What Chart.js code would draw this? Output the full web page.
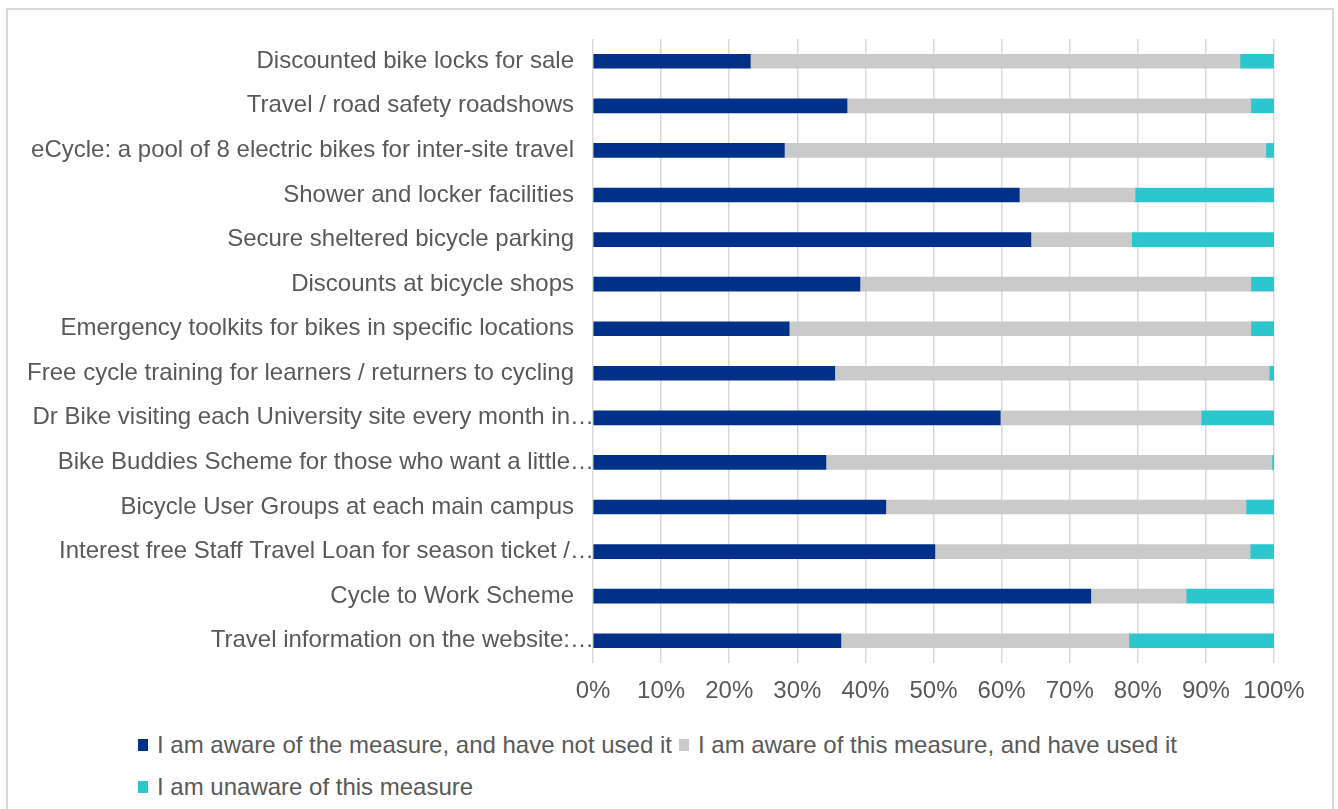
<!DOCTYPE html>
<html>
<head>
<meta charset="utf-8">
<script src="https://cdn.jsdelivr.net/npm/chart.js@4"></script>
<style>
  body { margin: 0; width: 1338px; height: 809px; overflow: hidden; background: #fff;
         font-family: "Liberation Sans", Arial, sans-serif; }
  #frame { position: absolute; left: 6px; top: 8px; width: 1324px; height: 900px;
           border: 2px solid #d9d9d9; }
  #wrap { position: absolute; left: 0; top: 0; width: 1338px; height: 720px; }
  #legend { position: absolute; left: 138px; top: 724px; font-size: 24px; color: #595959; }
  .row { display: flex; align-items: center; height: 42px; white-space: nowrap; }
  .item { display: flex; align-items: center; margin-right: 7px; }
  .sw { display: inline-block; width: 10px; height: 12px; margin-right: 9px; }
</style>
</head>
<body>
<div id="frame"></div>
<div id="wrap"><canvas id="chart"></canvas></div>
<div id="legend"></div>

<script>
// measures, top to bottom as shown (labels truncated like the original)
const MEASURES = [
  'Discounted bike locks for sale',
  'Travel / road safety roadshows',
  'eCycle: a pool of 8 electric bikes for inter-site travel',
  'Shower and locker facilities',
  'Secure sheltered bicycle parking',
  'Discounts at bicycle shops',
  'Emergency toolkits for bikes in specific locations',
  'Free cycle training for learners / returners to cycling',
  'Dr Bike visiting each University site every month in…',
  'Bike Buddies Scheme for those who want a little…',
  'Bicycle User Groups at each main campus',
  'Interest free Staff Travel Loan for season ticket /…',
  'Cycle to Work Scheme',
  'Travel information on the website:…'
];

// percentages per measure
const AWARE_NOT_USED = [23.1, 37.3, 28.1, 62.6, 64.3, 39.2, 28.8, 35.5, 59.8, 34.2, 43.0, 50.2, 73.1, 36.4];
const AWARE_USED     = [71.9, 59.3, 70.7, 17.0, 14.8, 57.4, 67.8, 63.8, 29.5, 65.5, 52.9, 46.3, 14.0, 42.3];
const UNAWARE        = [ 5.0,  3.4,  1.2, 20.4, 20.9,  3.4,  3.4,  0.7, 10.7,  0.3,  4.1,  3.5, 12.9, 21.3];

const SERIES = [
  { label: 'I am aware of the measure, and have not used it', data: AWARE_NOT_USED, color: '#003189' },
  { label: 'I am aware of this measure, and have used it',    data: AWARE_USED,     color: '#cacaca' },
  { label: 'I am unaware of this measure',                    data: UNAWARE,        color: '#2bc6ce' }
];

const FONT = { family: '"Liberation Sans", Arial, sans-serif', size: 24 };
const TEXT = '#595959';

new Chart(document.getElementById('chart'), {
  type: 'bar',
  data: {
    labels: MEASURES,
    datasets: SERIES.map(s => ({
      label: s.label,
      data: s.data,
      backgroundColor: s.color,
      borderWidth: 0,
      barThickness: 14
    }))
  },
  options: {
    indexAxis: 'y',
    responsive: true,
    maintainAspectRatio: false,
    animation: false,
    layout: { padding: { left: 0, right: 64, top: 39, bottom: 0 } },
    plugins: { legend: { display: false }, tooltip: { enabled: false } },
    scales: {
      x: {
        stacked: true,
        min: 0, max: 100,
        ticks: { stepSize: 10, callback: v => v + '%', font: FONT, color: TEXT, padding: 14 },
        grid: { color: '#d9d9d9', lineWidth: 1.5, drawTicks: false },
        border: { display: false },
        afterFit: s => { s.height = 57; }
      },
      y: {
        stacked: true,
        ticks: {
          font: FONT, color: TEXT, padding: -9, autoSkip: false,
          // truncated labels run up to the axis, full ones keep a gap
          callback: (v, i) => MEASURES[i].endsWith('…') ? MEASURES[i] : MEASURES[i] + '   '
        },
        grid: { display: false },
        border: { display: false },
        afterFit: s => { s.width = 593; }
      }
    }
  }
});

// legend laid out in two rows like the original
const legend = document.getElementById('legend');
[[0, 1], [2]].forEach(row => {
  const div = document.createElement('div');
  div.className = 'row';
  row.forEach(i => {
    const span = document.createElement('span');
    span.className = 'item';
    span.innerHTML = '<span class="sw" style="background:' + SERIES[i].color + '"></span>' + SERIES[i].label;
    div.appendChild(span);
  });
  legend.appendChild(div);
});
</script>
</body>
</html>
